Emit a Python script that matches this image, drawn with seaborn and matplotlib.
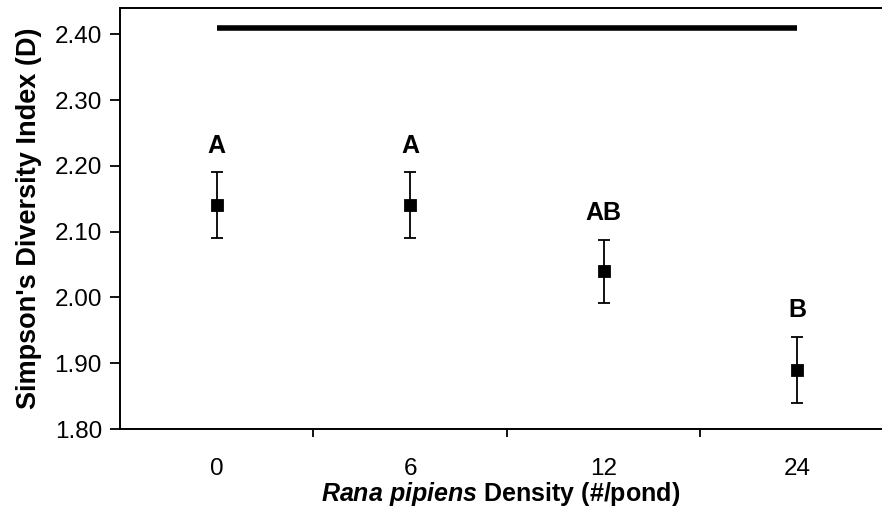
import matplotlib
matplotlib.use("Agg")
import matplotlib.pyplot as plt
from matplotlib.ticker import FixedLocator
import numpy as np
import pandas as pd
import seaborn as sns

# Simpson's diversity by Rana pipiens density
density = ["0", "6", "12", "24"]
simpson_d = [2.14, 2.14, 2.04, 1.89]
std_err = [0.05, 0.05, 0.048, 0.05]
groups = ["A", "A", "AB", "B"]
bracket_y = 2.41
y_ticks = [1.80, 1.90, 2.00, 2.10, 2.20, 2.30, 2.40]

df = pd.DataFrame({"density": density, "D": simpson_d, "se": std_err})

sns.set_style("ticks")
plt.rcParams["font.family"] = ["Liberation Sans", "DejaVu Sans"]
plt.rcParams.update({
    "text.color": "black",
    "axes.labelcolor": "black",
    "xtick.color": "black",
    "ytick.color": "black",
    "mathtext.fontset": "custom",
    "mathtext.bfit": "Liberation Sans:italic:bold",
    "mathtext.bf": "Liberation Sans:bold",
    "mathtext.it": "Liberation Sans:italic",
    "mathtext.rm": "Liberation Sans",
})

fig = plt.figure(figsize=(8.82, 5.14), dpi=100)
ax = fig.add_axes([120 / 882, 85 / 514, 762 / 882, 421 / 514])

# error bars first so the square markers sit on top
ax.errorbar(np.arange(len(density)), df["D"], yerr=df["se"], fmt="none",
            ecolor="black", elinewidth=1.3, capsize=4.5, capthick=1.3, zorder=2)
sns.pointplot(data=df, x="density", y="D", order=density, markers="s",
              linestyle="none", color="black", errorbar=None,
              markersize=6.5, ax=ax, zorder=3)

# significance letters above each bar
for i, (m, s, g) in enumerate(zip(simpson_d, std_err, groups)):
    ax.text(i, m + s + 0.03, g, ha="center", va="baseline",
            fontsize=18, fontweight="bold")

# overall comparison bar spanning all densities
ax.plot([0, len(density) - 1], [bracket_y, bracket_y], color="black",
        lw=4, solid_capstyle="butt")

ax.set_xlim(-0.5, 3.44)
ax.set_ylim(1.80, 2.44)
ax.set_yticks(y_ticks)
ax.set_yticklabels([f"{v:.2f}" for v in y_ticks])
ax.set_xticks(range(len(density)))
ax.set_xticklabels(density)
ax.xaxis.set_minor_locator(FixedLocator([0.5, 1.5, 2.5]))
ax.tick_params(axis="x", which="major", length=0, labelsize=17.5, pad=21)
ax.tick_params(axis="x", which="minor", length=6, width=1.3, direction="out")
ax.tick_params(axis="y", length=7, width=1.3, direction="out", labelsize=17.5, pad=6)

for side in ["left", "bottom", "top"]:
    ax.spines[side].set_linewidth(1.4)
    ax.spines[side].set_color("black")
ax.spines["right"].set_visible(False)

ax.set_xlabel(r"$\mathbfit{Rana\ pipiens}$" + " Density (#/pond)",
              fontsize=18, fontweight="bold", labelpad=0)
ax.set_ylabel("Simpson's Diversity Index (D)", fontsize=19.5,
              fontweight="bold", labelpad=9)

fig.savefig("out.png", dpi=100)
